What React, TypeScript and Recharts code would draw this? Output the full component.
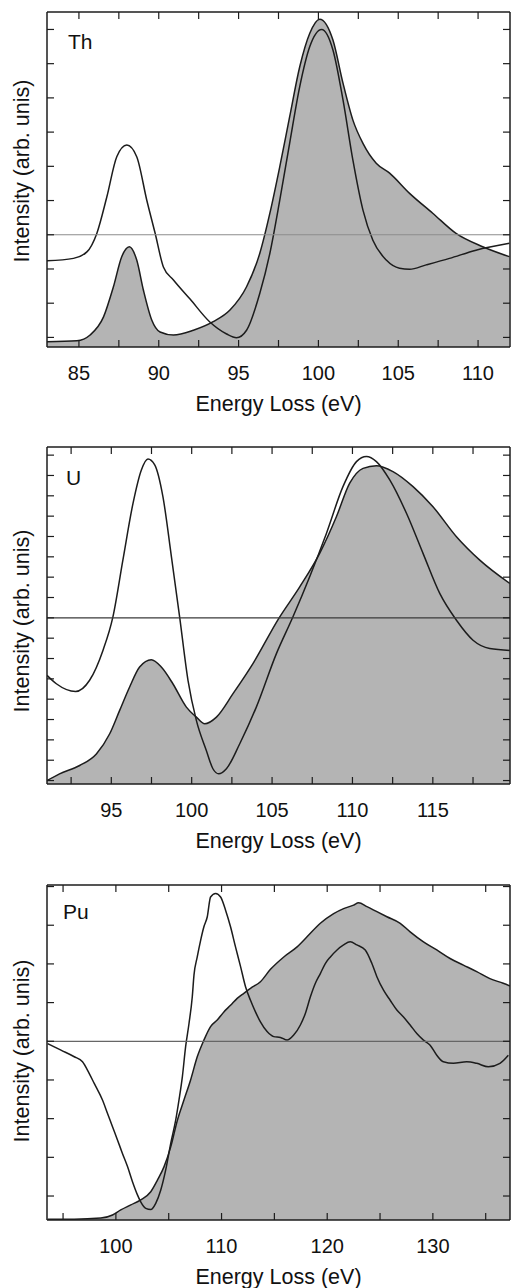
import { Area, ComposedChart, Label, Line, ReferenceLine, XAxis, YAxis } from "recharts";

const FONT = "'Liberation Sans', Arial, Helvetica, sans-serif";
const INK = "#1c1c1c";
const FILL = "#b4b4b4";

// Th panel
const thFilledE = [83, 84.87, 85.7, 86.54, 87.16, 87.68, 88.16, 88.62, 89.04, 89.56, 90.08, 90.92, 92.17, 93.41, 94.46, 95.5, 96.33, 96.96, 97.58, 98.2, 98.83, 99.46, 100.08, 100.91, 101.54, 102.16, 102.79, 103.62, 104.46, 105.71, 107.16, 108.62, 110.29, 111.96];
const thFilledI = [-0.13, -0.1, 0.07, 0.6, 1.48, 2.36, 2.65, 2.26, 1.38, 0.51, 0.16, 0.07, 0.21, 0.46, 0.8, 1.48, 2.46, 3.63, 4.99, 6.45, 7.91, 8.89, 9.3, 8.69, 7.43, 6.35, 5.67, 5.09, 4.8, 4.21, 3.63, 3.04, 2.65, 2.36];
const thBareE = [83, 84.66, 85.5, 86.12, 86.75, 87.37, 88, 88.62, 89.25, 89.77, 90.29, 90.92, 91.96, 93.2, 94.25, 94.87, 95.5, 96.33, 96.96, 97.58, 98.2, 98.83, 99.46, 100.2, 100.91, 101.54, 102.16, 102.79, 103.41, 104.25, 105.08, 105.71, 106.75, 108.21, 109.87, 111.96];
const thBareI = [2.24, 2.31, 2.5, 3.04, 4.11, 5.28, 5.62, 5.28, 4.01, 3.05, 2.06, 1.68, 1.12, 0.45, 0.1, -0.01, 0.21, 1.29, 2.46, 4.01, 5.68, 7.33, 8.5, 9.0, 8.4, 6.94, 5.18, 3.72, 2.84, 2.26, 2.02, 1.99, 2.12, 2.31, 2.55, 2.75];

// U panel
const uFilledE = [91, 91.78, 93.03, 94.07, 94.9, 95.52, 96.14, 96.76, 97.49, 98.11, 98.83, 99.67, 100.29, 100.81, 101.54, 102.57, 103.81, 105.4, 106.72, 107.96, 109, 109.83, 110.66, 111.49, 112.52, 113.77, 115.01, 116.47, 117.92, 119.79];
const uFilledI = [0, 0.33, 0.74, 1.31, 2.3, 3.45, 4.6, 5.58, 5.94, 5.58, 4.76, 3.61, 3.12, 2.79, 3.12, 4.27, 5.75, 7.95, 9.52, 11.17, 12.97, 14.62, 15.35, 15.48, 15.19, 14.45, 13.46, 11.99, 10.84, 9.69];
const uBareE = [91, 91.58, 92.78, 93.65, 94.48, 95.1, 95.72, 96.35, 96.87, 97.28, 97.7, 98.21, 98.74, 99.25, 99.77, 100.29, 100.91, 101.32, 101.68, 102.16, 102.99, 104.02, 105.27, 106.3, 107.34, 108.38, 109.41, 110.25, 110.87, 111.49, 112.32, 113.36, 114.39, 115.43, 116.47, 117.5, 118.54, 119.79];
const uBareI = [5.17, 4.76, 4.38, 4.93, 6.4, 8.05, 10.84, 13.63, 15.27, 15.81, 15.52, 13.96, 11.0, 8.05, 4.93, 2.96, 1.48, 0.58, 0.33, 0.58, 1.81, 3.61, 6.24, 8.05, 10.02, 12.15, 14.45, 15.68, 15.93, 15.68, 14.78, 13.14, 11.17, 9.2, 7.88, 6.9, 6.49, 6.4];

// Pu panel
const puFilledE = [93.54, 96.06, 98.58, 99.68, 100.46, 101.41, 102.35, 103.3, 103.93, 104.56, 105.19, 105.82, 106.44, 107.07, 107.7, 108.33, 108.96, 109.59, 110.22, 110.85, 111.48, 112.11, 112.74, 113.68, 114.63, 115.89, 117.15, 118.09, 119.35, 120.61, 121.55, 122.5, 122.97, 123.76, 124.7, 125.65, 126.91, 127.85, 129.11, 130.37, 131.63, 132.89, 134.15, 135.4, 136.66, 137.3];
const puFilledI = [-0.6, -0.6, -0.57, -0.49, -0.36, -0.23, -0.1, 0.11, 0.41, 0.76, 1.27, 1.96, 2.48, 3.0, 3.6, 4.03, 4.38, 4.55, 4.76, 4.93, 5.11, 5.24, 5.37, 5.54, 5.86, 6.18, 6.44, 6.7, 7.05, 7.3, 7.43, 7.52, 7.58, 7.48, 7.35, 7.22, 7.05, 6.83, 6.57, 6.36, 6.14, 5.97, 5.8, 5.62, 5.5, 5.43];
const puBareE = [93.54, 94.8, 96.06, 96.84, 97.47, 97.95, 98.73, 99.2, 99.68, 100.15, 100.62, 101.1, 101.57, 102.04, 102.35, 102.83, 103.3, 103.77, 104.24, 104.71, 105.19, 105.66, 105.97, 106.29, 106.6, 106.92, 107.23, 107.39, 107.7, 108.02, 108.33, 108.65, 108.96, 109.44, 109.91, 110.38, 110.85, 111.32, 111.8, 112.27, 112.74, 113.21, 113.68, 114.31, 114.94, 115.57, 116.2, 116.83, 117.46, 117.93, 118.41, 118.88, 119.35, 119.82, 120.3, 120.93, 121.55, 122.18, 122.81, 123.6, 124.23, 124.7, 125.33, 125.96, 126.59, 127.22, 127.85, 128.48, 129.11, 129.74, 130.37, 130.99, 131.94, 133.2, 134.15, 135.25, 136.35, 137.14];
const puBareI = [3.94, 3.77, 3.6, 3.47, 3.17, 2.91, 2.48, 2.14, 1.79, 1.45, 1.1, 0.76, 0.37, 0.03, -0.15, -0.32, -0.35, -0.19, 0.15, 0.67, 1.36, 1.96, 2.48, 3.08, 3.86, 4.46, 5.15, 5.71, 6.18, 6.61, 6.96, 7.22, 7.73, 7.82, 7.73, 7.39, 6.96, 6.44, 5.93, 5.41, 5.06, 4.76, 4.5, 4.25, 4.12, 4.1, 4.03, 4.16, 4.42, 4.72, 5.15, 5.5, 5.75, 6.01, 6.18, 6.36, 6.49, 6.57, 6.49, 6.36, 6.01, 5.67, 5.32, 5.06, 4.81, 4.63, 4.42, 4.2, 4.03, 3.9, 3.64, 3.47, 3.43, 3.47, 3.43, 3.34, 3.43, 3.64];

const thXTicks = [85, 87.5, 90, 92.5, 95, 97.5, 100, 102.5, 105, 107.5, 110];
const thXLabels = [85, 90, 95, 100, 105, 110];
const thYTicks = [0, 1, 2, 3, 4, 5, 6, 7, 8, 9];
const uXTicks = [92.5, 95, 97.5, 100, 102.5, 105, 107.5, 110, 112.5, 115, 117.5];
const uXLabels = [95, 100, 105, 110, 115];
const uYTicks = [0, 1, 2, 3, 4, 5, 6, 7, 8, 9, 10, 11, 12, 13, 14, 15, 16];
const puXTicks = [95, 100, 105, 110, 115, 120, 125, 130, 135];
const puXLabels = [100, 110, 120, 130];
const puYTicks = [0, 1, 2, 3, 4, 5, 6, 7, 8];

const toSeries = (e: number[], v: number[]) => e.map((x, i) => ({ e: x, v: v[i] }));

type PanelProps = {
  name: string;
  filled: { e: number; v: number }[];
  bare: { e: number; v: number }[];
  xDomain: [number, number];
  xTicks: number[];
  xLabels: number[];
  yDomain: [number, number];
  yTicks: number[];
  refY: number;
  refColor: string;
  height: number;
  top: number;
  bottomAxis: number;
  labelOffset: number;
  yLabelY: number;
  nameX: number;
  nameY: number;
};

const noText = () => "";
const tickLineStyle = { stroke: INK, strokeWidth: 1.2 };

function Panel(p: PanelProps) {
  const tickStyle = { fontSize: 20, fill: "#111", fontFamily: FONT };
  return (
    <ComposedChart width={511} height={p.height} margin={{ top: p.top, right: 1, bottom: 0, left: 47 }}>
      <XAxis
        xAxisId="lab"
        type="number"
        dataKey="e"
        domain={p.xDomain}
        allowDataOverflow
        ticks={p.xLabels}
        interval={0}
        height={p.bottomAxis}
        axisLine={false}
        tickLine={false}
        tickSize={6}
        tickMargin={13}
        tick={tickStyle}
      >
        <Label
          value="Energy Loss (eV)"
          position="insideBottom"
          offset={p.labelOffset}
          style={{ fontSize: 21.5, fill: "#111", fontFamily: FONT }}
        />
      </XAxis>
      <Area
        xAxisId="lab"
        yAxisId="l"
        data={p.filled}
        dataKey="v"
        type="monotone"
        baseValue="dataMin"
        fill={FILL}
        fillOpacity={1}
        stroke={INK}
        strokeWidth={1.5}
        dot={false}
        activeDot={false}
        isAnimationActive={false}
      />
      <Line
        xAxisId="lab"
        yAxisId="l"
        data={p.bare}
        dataKey="v"
        type="monotone"
        stroke={INK}
        strokeWidth={1.5}
        dot={false}
        activeDot={false}
        isAnimationActive={false}
      />
      <ReferenceLine xAxisId="lab" yAxisId="l" y={p.refY} stroke={p.refColor} strokeWidth={1.2} />
      <XAxis
        xAxisId="b"
        mirror
        type="number"
        dataKey="e"
        domain={p.xDomain}
        allowDataOverflow
        ticks={p.xTicks}
        interval={0}
        height={1}
        tickSize={7}
        tickFormatter={noText}
        tickLine={tickLineStyle}
        stroke={INK}
        strokeWidth={1.5}
      />
      <XAxis
        xAxisId="t"
        orientation="top"
        mirror
        type="number"
        dataKey="e"
        domain={p.xDomain}
        allowDataOverflow
        ticks={p.xTicks}
        interval={0}
        height={1}
        tickSize={7}
        tickFormatter={noText}
        tickLine={tickLineStyle}
        stroke={INK}
        strokeWidth={1.5}
      >
        <Label
          content={() => (
            <text x={p.nameX} y={p.nameY} fontSize={21} fontFamily={FONT} fill="#111">
              {p.name}
            </text>
          )}
        />
      </XAxis>
      <YAxis
        yAxisId="l"
        mirror
        type="number"
        domain={p.yDomain}
        allowDataOverflow
        ticks={p.yTicks}
        interval={0}
        width={1}
        tickSize={7}
        tickFormatter={noText}
        tickLine={tickLineStyle}
        stroke={INK}
        strokeWidth={1.5}
      >
        <Label
          content={() => (
            <text
              x={22}
              y={p.yLabelY}
              transform={`rotate(-90 22 ${p.yLabelY})`}
              textAnchor="middle"
              dominantBaseline="central"
              fontSize={21.5}
              fontFamily={FONT}
              fill="#111"
            >
              Intensity (arb. unis)
            </text>
          )}
        />
      </YAxis>
      <YAxis
        yAxisId="r"
        orientation="right"
        mirror
        type="number"
        domain={p.yDomain}
        allowDataOverflow
        ticks={p.yTicks}
        interval={0}
        width={1}
        tickSize={7}
        tickFormatter={noText}
        tickLine={tickLineStyle}
        stroke={INK}
        strokeWidth={1.5}
      />
    </ComposedChart>
  );
}

export default function App() {
  return (
    <div style={{ position: "absolute", left: 0, top: 0, width: 511, height: 1288, background: "#fff" }}>
      <div style={{ height: 420 }}>
        <Panel
          name="Th"
          filled={toSeries(thFilledE, thFilledI)}
          bare={toSeries(thBareE, thBareI)}
          xDomain={[83, 112]}
          xTicks={thXTicks}
          xLabels={thXLabels}
          yDomain={[-0.28, 9.51]}
          yTicks={thYTicks}
          refY={3}
          refColor="#8c8c8c"
          height={420}
          top={12}
          bottomAxis={73}
          labelOffset={9}
          yLabelY={171}
          nameX={68}
          nameY={49}
        />
      </div>
      <div style={{ height: 430 }}>
        <Panel
          name="U"
          filled={toSeries(uFilledE, uFilledI)}
          bare={toSeries(uBareE, uBareI)}
          xDomain={[91, 119.8]}
          xTicks={uXTicks}
          xLabels={uXLabels}
          yDomain={[-0.17, 16.4]}
          yTicks={uYTicks}
          refY={8}
          refColor="#3a3a3a"
          height={440}
          top={27}
          bottomAxis={76}
          labelOffset={12}
          yLabelY={201}
          nameX={66}
          nameY={65}
        />
      </div>
      <div style={{ height: 438 }}>
        <Panel
          name="Pu"
          filled={toSeries(puFilledE, puFilledI)}
          bare={toSeries(puBareE, puBareI)}
          xDomain={[93.48, 137.3]}
          xTicks={puXTicks}
          xLabels={puXLabels}
          yDomain={[-0.62, 8.04]}
          yTicks={puYTicks}
          refY={4}
          refColor="#666666"
          height={438}
          top={35}
          bottomAxis={68}
          labelOffset={4}
          yLabelY={201}
          nameX={63}
          nameY={69}
        />
      </div>
    </div>
  );
}
